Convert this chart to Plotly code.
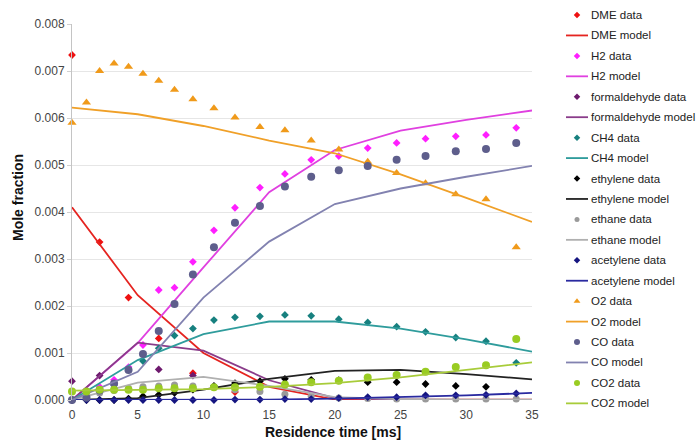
import plotly.graph_objects as go

# ---------------- data ----------------
t_data = [0, 1.1, 2.1, 3.2, 4.3, 5.4, 6.6, 7.8, 9.2, 10.8, 12.4, 14.3, 16.2, 18.2,
          20.3, 22.5, 24.7, 26.9, 29.2, 31.5, 33.8]
t_model = [0, 5, 10, 15, 20, 25, 30, 35]

dme_t = [0, 2.1, 4.3, 6.6, 9.2, 12.4]
dme_data = [0.00734, 0.00336, 0.00218, 0.00131, 0.00057, 0.00017]
dme_model = [0.0041, 0.00223, 0.0010, 0.00028, 0.00001, 0.00001, 0.00001, 0.00001]

h2_data = [0.0, 0.0001, 0.00028, 0.00043, 0.0007, 0.00117, 0.00234, 0.00239, 0.00294,
           0.00361, 0.00409, 0.00452, 0.00481, 0.00511, 0.00519, 0.00536, 0.00547,
           0.00556, 0.00561, 0.00564, 0.00579]
h2_model = [0.0, 0.00121, 0.00282, 0.00442, 0.00532, 0.00573, 0.00596, 0.00616]

form_t = [0, 2.1, 6.6, 9.2]
form_data = [0.0004, 0.00052, 0.00065, 0.00052]
form_model = [0.0, 0.00122, 0.00105, 0.00042, 0.00004, 0.00001, 0.0, 0.0]

ch4_data = [0.0, 0.00008, 0.0002, 0.00032, 0.00064, 0.00083, 0.0011, 0.00137, 0.00152,
            0.0017, 0.00176, 0.00178, 0.00181, 0.00179, 0.00172, 0.00165, 0.00156,
            0.00145, 0.00133, 0.00125, 0.00079]
ch4_model = [0.0, 0.00085, 0.0014, 0.00167, 0.00167, 0.00152, 0.00129, 0.00103]

eth_t = t_data[:20]
ethylene_data = [0.0, 0.0, 0.0, 0.0, 0.00003, 0.00008, 0.00011, 0.00015, 0.00022, 0.0003,
                 0.00036, 0.0004, 0.00045, 0.00043, 0.00042, 0.00038, 0.00038, 0.00034,
                 0.0003, 0.00028]
ethylene_model = [0.0, 0.00004, 0.00022, 0.00045, 0.00062, 0.00064, 0.00055, 0.00044]

ethane_data = [0.0, 0.00005, 0.00015, 0.0002, 0.00025, 0.00028, 0.0003, 0.00032, 0.0003,
               0.00027, 0.00022, 0.00018, 0.00012, 0.00008, 0.00004, 0.00003, 0.00002,
               0.00002, 0.00002, 0.00002, 0.00002]
ethane_model = [0.0, 0.00037, 0.00049, 0.0003, 0.00006, 0.00002, 0.00001, 0.00001]

acet_data = [0.0, 0.0, 0.0, 0.0, 0.0, 0.0, 0.0, 0.0, 0.0, 0.0, 0.00001, 0.00001, 0.00002,
             0.00002, 0.00004, 0.00006, 0.00006, 0.0001, 0.0001, 0.00011, 0.00014]
acet_model = [0.0, 0.0, 0.000005, 0.00001, 0.00003, 0.00006, 0.0001, 0.00015]

o2_data = [0.0059, 0.00633, 0.007, 0.00716, 0.00709, 0.00694, 0.00679, 0.0066, 0.0064,
           0.00621, 0.00601, 0.00581, 0.00574, 0.00552, 0.00533, 0.00507, 0.00483,
           0.00461, 0.00438, 0.00427, 0.00325]
o2_model = [0.00622, 0.00608, 0.00583, 0.00552, 0.00525, 0.0048, 0.0043, 0.00379]

co_data = [0.0, 0.00005, 0.0002, 0.00035, 0.00064, 0.00098, 0.00147, 0.00204, 0.00267,
           0.00325, 0.00377, 0.00413, 0.00454, 0.00475, 0.00489, 0.00498, 0.00511,
           0.00519, 0.00529, 0.00534, 0.00547]
co_model = [0.0, 0.0006, 0.00218, 0.00337, 0.00417, 0.0045, 0.00475, 0.00498]

co2_data = [0.00018, 0.00018, 0.00022, 0.00022, 0.00022, 0.00022, 0.00025, 0.00025,
            0.00025, 0.00027, 0.00027, 0.00028, 0.00033, 0.00038, 0.00041, 0.00048,
            0.00053, 0.0006, 0.0007, 0.00074, 0.0013]
co2_model = [0.0002, 0.00021, 0.00023, 0.00028, 0.00036, 0.00048, 0.00064, 0.0008]

y_ticks = [0, 0.001, 0.002, 0.003, 0.004, 0.005, 0.006, 0.007, 0.008]
x_ticks = [0, 5, 10, 15, 20, 25, 30, 35]

# name, data t, data y, model y, marker symbol, marker size, data colour, line colour
series = [
    ("DME", dme_t, dme_data, dme_model, "diamond", 6, "#ee1111", "#e52420"),
    ("H2", t_data, h2_data, h2_model, "diamond", 6, "#ff1eff", "#e040e0"),
    ("formaldehyde", form_t, form_data, form_model, "diamond", 6, "#6e1a6e", "#8a3c8a"),
    ("CH4", t_data, ch4_data, ch4_model, "diamond", 6, "#17807f", "#2f9c9c"),
    ("ethylene", eth_t, ethylene_data, ethylene_model, "diamond", 6, "#000000", "#222222"),
    ("ethane", t_data, ethane_data, ethane_model, "circle", 7, "#9a9a9a", "#b0b0b0"),
    ("acetylene", t_data, acet_data, acet_model, "diamond", 6, "#151580", "#2a2aa0"),
    ("O2", t_data, o2_data, o2_model, "triangle-up", 8, "#f09a1a", "#f0a028"),
    ("CO", t_data, co_data, co_model, "circle", 8, "#5e5e8c", "#8282b0"),
    ("CO2", t_data, co2_data, co2_model, "circle", 8, "#99cc22", "#a8cc3a"),
]

W, H = 700, 443
PL, PR, PT, PB = 72, 532, 24, 400   # plot area in pixels

fig = go.Figure()
for name, tt, yd, ym, sym, sz, cd, cl in series:
    fig.add_trace(go.Scatter(x=tt, y=yd, mode="markers", name=name + " data",
                             marker=dict(symbol=sym, size=sz, color=cd, line=dict(width=0)),
                             cliponaxis=False, showlegend=False))
    fig.add_trace(go.Scatter(x=t_model, y=ym, mode="lines", name=name + " model",
                             line=dict(color=cl, width=1.8), showlegend=False))

# -------- custom legend (pixel overlay axes) --------
LEG_Y0, LEG_DY = 15.0, 20.44
leg_mark_x, leg_line_x0, leg_line_x1, leg_text_x = 577, 566, 588, 589
annotations = []
for i, (name, tt, yd, ym, sym, sz, cd, cl) in enumerate(series):
    yd_pos = LEG_Y0 + (2 * i) * LEG_DY
    ym_pos = LEG_Y0 + (2 * i + 1) * LEG_DY
    fig.add_trace(go.Scatter(x=[leg_mark_x], y=[yd_pos], mode="markers", xaxis="x2", yaxis="y2",
                             marker=dict(symbol=sym, size=max(sz - 2, 5), color=cd, line=dict(width=0)),
                             showlegend=False, hoverinfo="skip", cliponaxis=False))
    fig.add_trace(go.Scatter(x=[leg_line_x0, leg_line_x1], y=[ym_pos, ym_pos], mode="lines",
                             xaxis="x2", yaxis="y2", line=dict(color=cl, width=1.8),
                             showlegend=False, hoverinfo="skip"))
    for txt, yp in ((name + " data", yd_pos), (name + " model", ym_pos)):
        annotations.append(dict(text=txt, x=leg_text_x, y=yp, xref="x2", yref="y2",
                                xanchor="left", yanchor="middle", showarrow=False,
                                font=dict(size=11.5, color="#222222")))

annotations.append(dict(text="<b>Mole fraction</b>", x=18, y=198, xref="x2", yref="y2",
                        textangle=-90, showarrow=False, xanchor="center", yanchor="middle",
                        font=dict(size=14, color="#111111")))
annotations.append(dict(text="<b>Residence time [ms]</b>", x=333, y=432, xref="x2", yref="y2",
                        showarrow=False, xanchor="center", yanchor="middle",
                        font=dict(size=14, color="#111111")))

fig.update_layout(
    template="none",
    width=W, height=H, autosize=False,
    margin=dict(l=0, r=0, t=0, b=0, pad=0, autoexpand=False),
    paper_bgcolor="white", plot_bgcolor="rgba(0,0,0,0)",
    font=dict(family="Arial, Liberation Sans, sans-serif", size=12, color="#444444"),
    showlegend=False,
    annotations=annotations,
    xaxis=dict(domain=[PL / W, PR / W], range=[0, 35], tickvals=x_ticks, automargin=False,
               showgrid=False, zeroline=False, showline=False, ticks="",
               ticklabelstandoff=6,
               tickfont=dict(size=12, color="#444444")),
    yaxis=dict(domain=[(H - PB) / H, (H - PT) / H], range=[0, 0.008], tickvals=y_ticks,
               automargin=False,
               tickformat=".3f", showgrid=True, gridcolor="#e6e6e6", gridwidth=1,
               zeroline=False, showline=True, linecolor="#c4c4c4", linewidth=1,
               ticks="outside", ticklen=4, tickcolor="#d0d0d0",
               tickfont=dict(size=12, color="#444444")),
    xaxis2=dict(domain=[0, 1], range=[0, W], visible=False, fixedrange=True, anchor="y2",
                automargin=False),
    yaxis2=dict(domain=[0, 1], range=[H, 0], visible=False, fixedrange=True, anchor="x2",
                automargin=False),
)

fig.write_html("out.html")
